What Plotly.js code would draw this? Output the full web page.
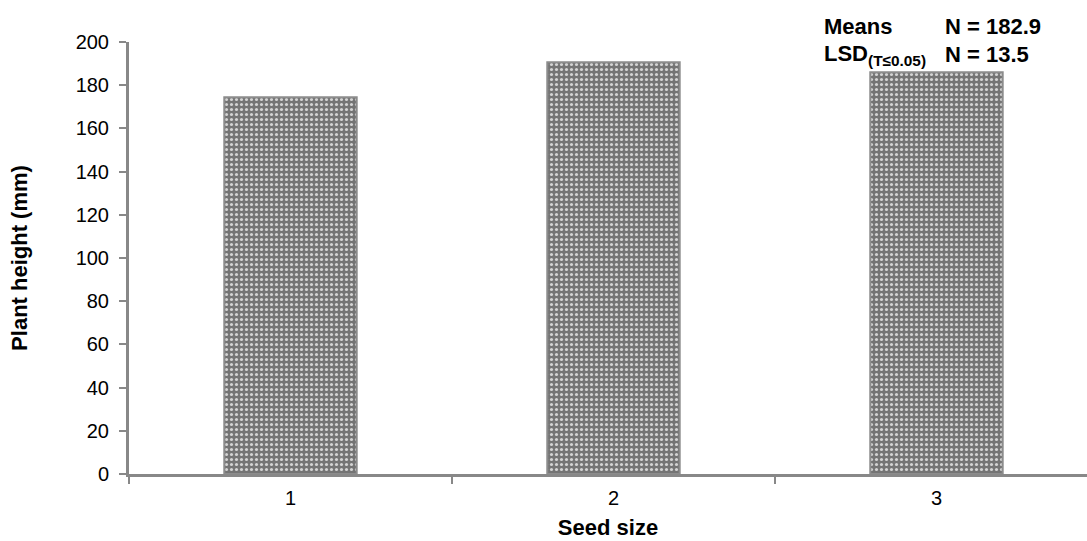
<!DOCTYPE html>
<html>
<head>
<meta charset="utf-8">
<script src="https://cdn.plot.ly/plotly-3.0.1.min.js"></script>
<style>html,body{margin:0;padding:0;background:#fff;}#chart{width:1087px;height:541px;}</style>
</head>
<body>
<div id="chart"></div>
<script>
const categories = ['1', '2', '3'];
const plantHeight = [174.4, 190.6, 186.0];
const yTicks = [0, 20, 40, 60, 80, 100, 120, 140, 160, 180, 200];
const statLabels = ['Means', 'LSD<sub>(T≤0.05)</sub>'];
const statValues = ['N = 182.9', 'N = 13.5'];

const FONT = 'Liberation Sans, Arial, sans-serif';

const trace = {
  type: 'bar',
  x: categories,
  y: plantHeight,
  width: 0.41,
  marker: {
    color: '#7c7c7c',
    line: {color: '#8c8c8c', width: 2},
    pattern: {shape: '.', bgcolor: '#747474', fgcolor: '#d4d4d4', size: 5, solidity: 0.3}
  },
  hoverinfo: 'skip'
};

const annotations = [];
statLabels.forEach((lab, i) => {
  const y = i === 0 ? 1.035 : 0.97;
  annotations.push({xref: 'paper', yref: 'paper', x: 0.7234, y: y, xanchor: 'left', yanchor: 'middle',
    text: '<b>' + lab + '</b>', showarrow: false, font: {family: FONT, size: 22, color: '#000'}});
  annotations.push({xref: 'paper', yref: 'paper', x: 0.8497, y: y, xanchor: 'left', yanchor: 'middle',
    text: '<b>' + statValues[i] + '</b>', showarrow: false, font: {family: FONT, size: 22, color: '#000'}});
});

const layout = {
  width: 1087, height: 541,
  margin: {l: 129, r: 0, t: 42, b: 67},
  paper_bgcolor: '#fff', plot_bgcolor: '#fff',
  showlegend: false,
  font: {family: FONT, color: '#000'},
  xaxis: {
    type: 'category',
    range: [-0.5, 2.466],
    showline: true, linecolor: '#888', linewidth: 3,
    ticks: 'outside', tickson: 'boundaries', ticklen: 7, tickwidth: 2, tickcolor: '#888',
    showgrid: false, zeroline: false,
    ticklabelstandoff: 4,
    tickfont: {family: FONT, size: 20, color: '#000'},
    title: {text: '<b>Seed size</b>', font: {family: FONT, size: 22, color: '#000'}, standoff: 12}
  },
  yaxis: {
    range: [0, 200],
    tickvals: yTicks,
    showline: true, linecolor: '#888', linewidth: 3,
    ticks: 'outside', ticklen: 7, tickwidth: 2, tickcolor: '#888',
    showgrid: false, zeroline: false,
    ticklabelstandoff: 6,
    tickfont: {family: FONT, size: 20, color: '#000'},
    title: {text: '<b>Plant height (mm)</b>', font: {family: FONT, size: 22, color: '#000'}, standoff: 42}
  },
  annotations: annotations
};

Plotly.newPlot('chart', [trace], layout, {displayModeBar: false, staticPlot: true});
</script>
</body>
</html>
